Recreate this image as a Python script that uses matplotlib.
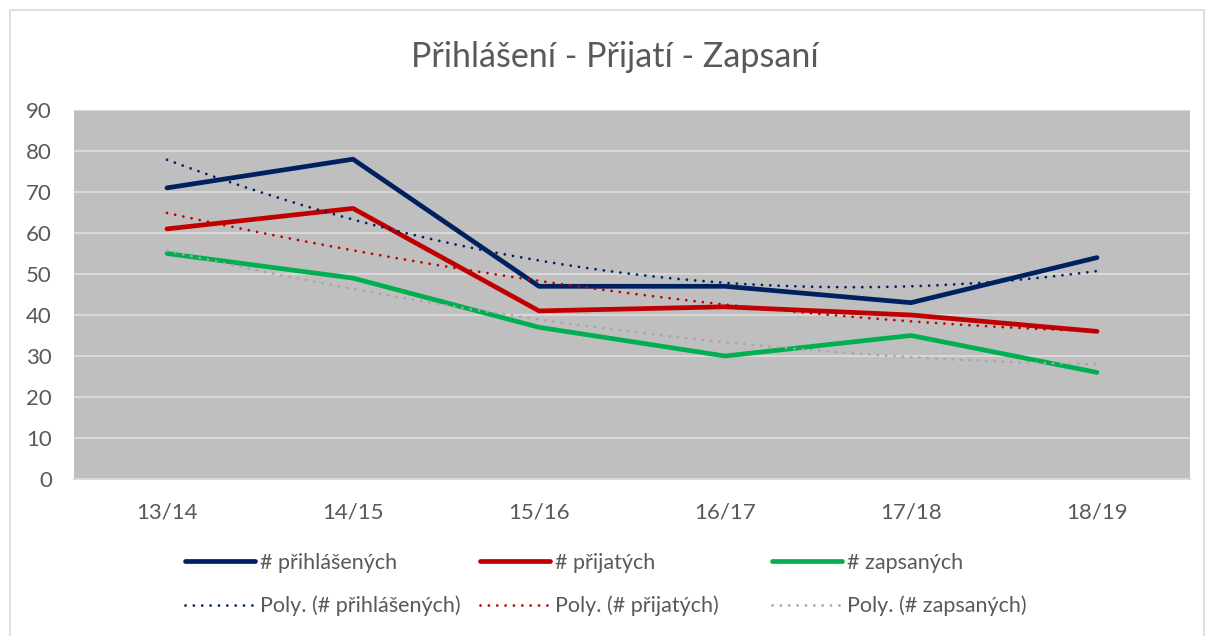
import numpy as np
import matplotlib
matplotlib.use("Agg")
import matplotlib.pyplot as plt
from matplotlib.patches import Rectangle

plt.rcParams['font.family'] = ['Lato', 'DejaVu Sans']

roky = ['13/14', '14/15', '15/16', '16/17', '17/18', '18/19']
prihlaseni = [71, 78, 47, 47, 43, 54]
prijati = [61, 66, 41, 42, 40, 36]
zapsani = [55, 49, 37, 30, 35, 26]

nazvy = ['# přihlášených', '# přijatých', '# zapsaných']
barvy = ['#002060', '#C00000', '#00B050']
barvy_poly = ['#002060', '#C00000', '#A6A6A6']
text_col = '#595959'

fig = plt.figure(figsize=(12.07, 6.36), dpi=100)
ax = fig.add_axes([74/1207, 1-479/636, (1190-74)/1207, (479-110)/636])
ax.set_facecolor('#BFBFBF')

# ramecek grafu
fig.patches.append(Rectangle((10/1207, -0.01), 1194/1207, 1-10/636+0.01,
                             transform=fig.transFigure, fill=False,
                             edgecolor='#D9D9D9', lw=1.2))

x = np.arange(len(roky))
xs = np.linspace(0, len(roky)-1, 200)
dots = (0, (0.01, 3.0))

handles_main = []
handles_poly = []
for data, nazev, c, cp in zip([prihlaseni, prijati, zapsani], nazvy, barvy, barvy_poly):
    h, = ax.plot(x, data, color=c, lw=3.4, solid_capstyle='round', zorder=3)
    koef = np.polyfit(x, data, 2)   # polynomicky trend 2. radu
    hp, = ax.plot(xs, np.polyval(koef, xs), color=cp, lw=2.0, linestyle=dots,
                  dash_capstyle='round', zorder=4)
    handles_main.append(h)
    handles_poly.append(hp)

ax.set_xlim(-0.5, len(roky)-0.5)
ax.set_ylim(0, 90)
ax.set_yticks(range(0, 91, 10))
ax.set_xticks(x)
ax.set_xticklabels(roky)
ax.grid(axis='y', color='#D9D9D9', lw=1.4)
ax.set_axisbelow(True)
for s in ['top', 'right', 'left']:
    ax.spines[s].set_visible(False)
ax.spines['bottom'].set_color('#D9D9D9')
ax.spines['bottom'].set_linewidth(1.4)
ax.tick_params(axis='both', length=0, labelsize=16, colors=text_col)
ax.tick_params(axis='y', pad=16)
ax.tick_params(axis='x', pad=17)

fig.text(0.509, 1-57/636, 'Přihlášení - Přijatí - Zapsaní', ha='center', va='center',
         fontsize=24.5, color=text_col)

# legenda - tri sloupce jako v Excelu
pozice = [185, 480, 772]
for i in range(3):
    leg = fig.legend([handles_main[i], handles_poly[i]],
                     [nazvy[i], 'Poly. (' + nazvy[i] + ')'],
                     loc='upper left', bbox_to_anchor=(pozice[i]/1207, 1-553/636),
                     frameon=False, fontsize=15.5, handlelength=3.25, handletextpad=0.25,
                     labelspacing=1.05, borderpad=0, borderaxespad=0)
    for t in leg.get_texts():
        t.set_color(text_col)

fig.savefig('out.png', dpi=100)
